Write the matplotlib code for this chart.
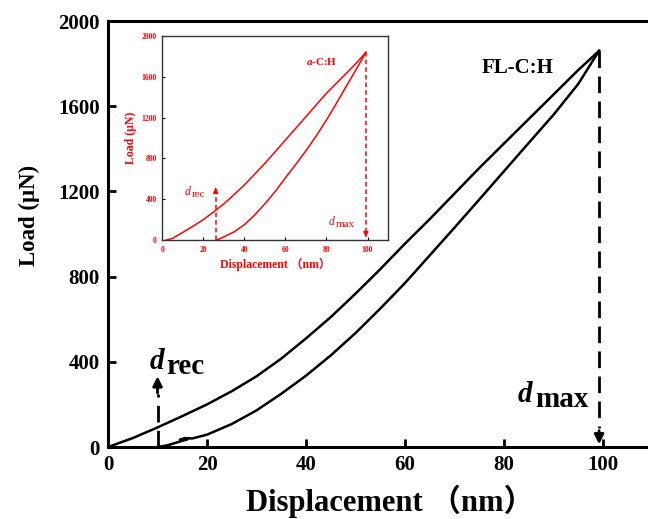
# 纳米压痕载荷-位移曲线 (FL-C:H 主图 + a-C:H 插图)
import matplotlib.pyplot as plt

plt.rcParams['font.family'] = ['Liberation Serif', 'Noto Sans CJK SC']
plt.rcParams['mathtext.fontset'] = 'custom'
plt.rcParams['mathtext.rm'] = 'Liberation Serif'
plt.rcParams['mathtext.it'] = 'Liberation Serif:italic:bold'
plt.rcParams['mathtext.bf'] = 'Liberation Serif:bold'

# 主图: FL-C:H 加载曲线
main_load_x = [0, 5, 10, 15, 20, 25, 30, 35, 40, 45, 50, 55, 60, 65, 70, 75, 80, 85, 90, 95, 99.2]
main_load_y = [0, 42, 92, 145, 200, 262, 332, 415, 510, 610, 720, 835, 955, 1070, 1190, 1310, 1425, 1540, 1655, 1770, 1860]
# 主图: 卸载曲线
main_unload_x = [99.2, 95, 90, 85, 80, 75, 70, 65, 60, 55, 50, 45, 40, 35, 30, 25, 20, 17, 15.5, 14.5, 16, 14, 12, 10]
main_unload_y = [1860, 1705, 1560, 1428, 1295, 1162, 1030, 900, 770, 650, 535, 430, 335, 250, 172, 108, 58, 40, 42, 34, 36, 22, 8, 0]
main_d_rec = 10
main_d_max = 99.2

# 插图: a-C:H
ins_load_x = [2, 5, 10, 15, 20, 25, 30, 35, 40, 45, 50, 55, 60, 65, 70, 75, 80, 85, 90, 95, 99.2]
ins_load_y = [0, 16, 75, 135, 200, 275, 355, 445, 540, 645, 752, 865, 980, 1095, 1209, 1325, 1438, 1540, 1640, 1745, 1840]
ins_unload_x = [99.2, 95, 90, 85, 80, 75, 70, 65, 60, 55, 50, 45, 40, 35, 30, 26.6]
ins_unload_y = [1840, 1690, 1520, 1345, 1176, 1020, 875, 740, 610, 475, 355, 245, 150, 80, 30, 0]
ins_d_rec = 26
ins_d_max = 99.2

red = '#ff0000'

fig = plt.figure(figsize=(6.48, 5.19), dpi=100)
ax = fig.add_axes([0.1667, 0.1387, 0.8403, 0.8208])

ax.plot(main_load_x, main_load_y, color='k', lw=1.8)
ax.plot(main_unload_x, main_unload_y, color='k', lw=1.8)

# d_rec 箭头
ax.plot([main_d_rec, main_d_rec], [0, 250], color='k', lw=2, dashes=(6, 3))
ax.annotate('', xy=(main_d_rec, 345), xytext=(main_d_rec, 240),
            arrowprops=dict(arrowstyle='-|>', color='k', lw=2, mutation_scale=14))
# d_max 箭头
ax.plot([main_d_max, main_d_max], [1860, 90], color='k', lw=2, dashes=(6, 3))
ax.annotate('', xy=(main_d_max, 0), xytext=(main_d_max, 90),
            arrowprops=dict(arrowstyle='-|>', color='k', lw=2, mutation_scale=14))

ax.text(8.5, 366, 'd', fontsize=21, fontstyle='italic', fontweight='bold')
ax.text(11.8, 343, 'rec', fontsize=21, fontweight='bold')
ax.text(82.7, 211, 'd', fontsize=21, fontstyle='italic', fontweight='bold')
ax.text(86.4, 188, 'max', fontsize=21, fontweight='bold')
ax.text(75.5, 1757, 'FL-C:H', fontsize=15, fontweight='bold')

ax.set_xlim(0, 110)
ax.set_ylim(0, 2000)
ax.set_xticks([0, 20, 40, 60, 80, 100])
ax.set_yticks([0, 400, 800, 1200, 1600, 2000])
ax.tick_params(direction='in', length=6, width=2, labelsize=15, pad=6)
for lab in ax.get_xticklabels() + ax.get_yticklabels():
    lab.set_fontweight('bold')
for s in ax.spines.values():
    s.set_linewidth(2.2)
ax.set_xlabel('Displacement （nm）', fontsize=22, fontweight='bold')
ax.set_ylabel('Load (μN)', fontsize=16.5, fontweight='bold')
ax.xaxis.set_label_coords(0.518, -0.088)
ax.yaxis.set_label_coords(-0.125, 0.544)

# 插图
axi = fig.add_axes([0.2505, 0.5376, 0.3483, 0.393])
axi.plot(ins_load_x, ins_load_y, color=red, lw=1.1)
axi.plot(ins_unload_x, ins_unload_y, color=red, lw=1.1)
axi.plot([ins_d_rec, ins_d_rec], [0, 470], color=red, lw=1.1, dashes=(3, 2))
axi.annotate('', xy=(ins_d_rec, 540), xytext=(ins_d_rec, 460),
             arrowprops=dict(arrowstyle='-|>', color=red, lw=1.1, mutation_scale=7))
axi.plot([ins_d_max, ins_d_max], [1840, 70], color=red, lw=1.1, dashes=(3, 2))
axi.annotate('', xy=(ins_d_max, 0), xytext=(ins_d_max, 80),
             arrowprops=dict(arrowstyle='-|>', color=red, lw=1.1, mutation_scale=7))
axi.text(11.1, 441, 'd', fontsize=8.5, fontstyle='italic', color=red)
axi.text(14.5, 421, 'rec', fontsize=8, color=red)
axi.text(81, 147, 'd', fontsize=8.5, fontstyle='italic', color=red)
axi.text(84.5, 127, 'max', fontsize=8, color=red)
axi.text(69.8, 1716, r'$\mathit{a}$-C:H', fontsize=8, fontweight='bold', color=red)

axi.set_xlim(0, 110)
axi.set_ylim(0, 2000)
axi.set_xticks([0, 20, 40, 60, 80, 100])
axi.set_yticks([0, 400, 800, 1200, 1600, 2000])
axi.tick_params(direction='in', length=2, width=0.8, labelsize=5.5, pad=4, labelcolor=red)
for lab in axi.get_xticklabels() + axi.get_yticklabels():
    lab.set_fontweight('bold')
for s in axi.spines.values():
    s.set_linewidth(1.0)
    s.set_color('#333333')
axi.set_xlabel('Displacement （nm）', fontsize=8.5, fontweight='bold', color=red, labelpad=3)
axi.set_ylabel('Load (μN)', fontsize=8.5, fontweight='bold', color=red, labelpad=3)

fig.savefig('out.png', dpi=100)
